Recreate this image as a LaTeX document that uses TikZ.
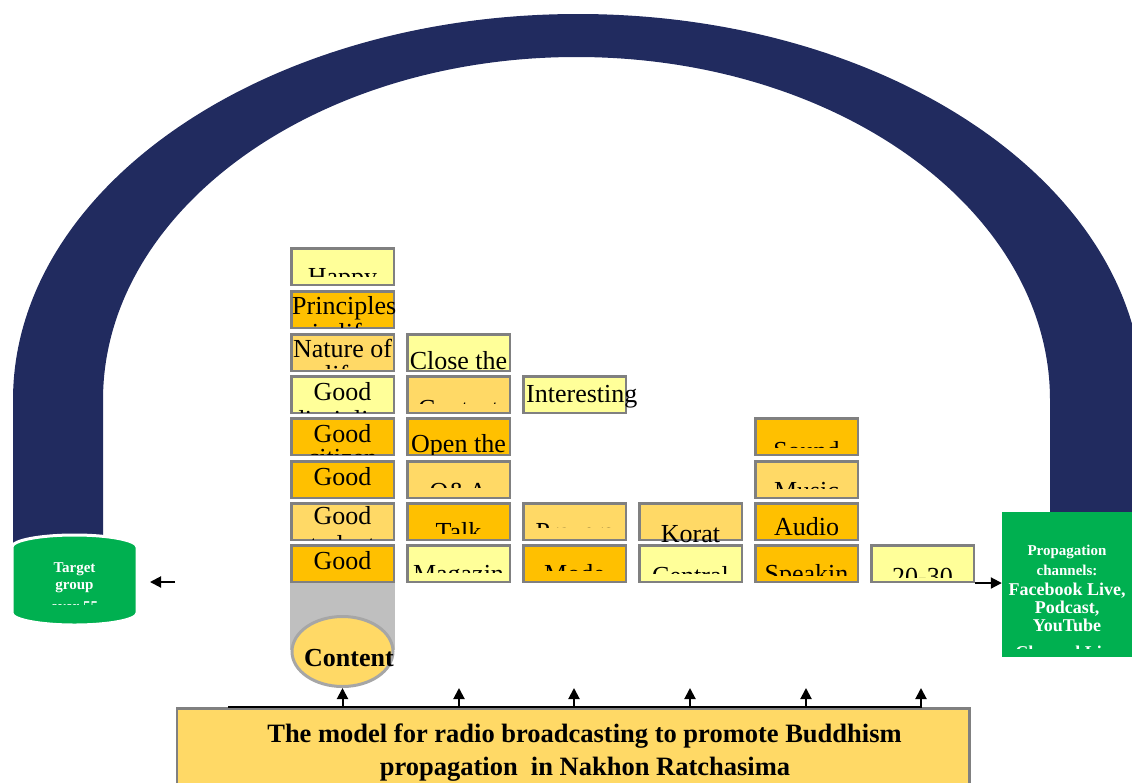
\documentclass[tikz,border=0pt]{standalone}
\usepackage{fontspec}
\setmainfont{Liberation Serif}
\usetikzlibrary{arrows.meta,shapes.geometric}
\definecolor{navy}{HTML}{212B5F}
\definecolor{grn}{HTML}{00B050}
\definecolor{ly}{HTML}{FFFF99}
\definecolor{org}{HTML}{FFC000}
\definecolor{lo}{HTML}{FFD966}
\definecolor{boxgray}{HTML}{808080}
\definecolor{ringgray}{HTML}{A6A6A6}
\definecolor{tubegray}{HTML}{BFBFBF}
\tikzset{
  cell/.style={draw=boxgray, line width=2.5pt, minimum width=102.5pt, minimum height=36.5pt, inner sep=0pt},
  txt/.style={font=\fontsize{26}{28}\selectfont, inner sep=0pt, anchor=base},
  gtxt/.style={font=\fontsize{15}{17}\selectfont\bfseries, text=white, inner sep=0pt, anchor=base},
  gbig/.style={font=\fontsize{18}{20}\selectfont\bfseries, text=white, inner sep=0pt, anchor=base},
  btxt/.style={font=\fontsize{26.5}{30}\selectfont\bfseries, inner sep=0pt, anchor=base},
  arr/.style={line width=2pt, -{Triangle[length=11pt,width=11pt]}}
}
\newcommand\cellbox[4]{\node[cell,fill=#4] (#1) at (#2,#3+19.5) {};}
\newcommand\cliptext[6]{\begin{scope}\clip (#2-80,#3+2.5) rectangle (#2+80,#4);
  \node[txt] (#1) at (#2,#5) {#6};\end{scope}}
\newcommand\cliptextw[7]{\begin{scope}\clip (#2-80,#3+2.5) rectangle (#2+80,#4);
  \node[txt, anchor=base west] (#1) at (#5,#6) {#7};\end{scope}}
\begin{document}
\begin{tikzpicture}[x=1pt,y=-1pt]
\useasboundingbox (0,0) rectangle (1132,782);
% arch
\fill[navy] (13,545) -- (13,400) arc[start angle=180, end angle=0, x radius=565pt, y radius=386pt]
  -- (1143,520) -- (1050,520) -- (1050,400)
  arc[start angle=0, end angle=180, x radius=473.5pt, y radius=343pt] -- (103,545) -- cycle;
% target group cylinder
\filldraw[fill=grn, draw=white, line width=3pt] (12,547) arc[start angle=180, end angle=0, x radius=62.5pt, y radius=12pt]
  -- (137,613) arc[start angle=0, end angle=-180, x radius=62.5pt, y radius=12pt] -- cycle;
\node[minimum width=125pt, minimum height=90pt, inner sep=0pt] (tg) at (74.5,580) {};
\begin{scope}
\clip (12,535) rectangle (137,604);
\node[gtxt] (tg1) at (74.5,572) {Target};
\node[gtxt] (tg2) at (74.5,589) {group};
\node[gtxt] (tg3) at (74.5,611) {over 55};
\end{scope}
% content tube and circle
\node[fill=tubegray, minimum width=105pt, minimum height=67pt, inner sep=0pt] (tube) at (342.5,616.5) {};
\node[ellipse, draw=ringgray, fill=lo, line width=3pt, minimum width=101pt, minimum height=70pt, inner sep=0pt] (content) at (342.5,651.5) {};
\node[btxt, font=\fontsize{26}{28}\selectfont\bfseries] (contentlabel) at (349,666) {Content};
% column 1
\cellbox{happy}{342.5}{247}{ly}
\cliptext{happy-t}{342.5}{247}{276}{285}{Happy}
\cellbox{princ}{342.5}{290}{org}
\cliptextw{princ-t}{342.5}{290}{327}{292}{314}{Principles}
\cliptext{princ-u}{342.5}{290}{327}{341}{in life}
\cellbox{nature}{342.5}{333}{lo}
\cliptext{nature-t}{342.5}{333}{368}{357}{Nature of}
\cliptext{nature-u}{342.5}{333}{368}{383}{life}
\cellbox{gdisc}{342.5}{375}{ly}
\cliptext{gdisc-t}{342.5}{375}{412}{400}{Good}
\cliptext{gdisc-u}{342.5}{375}{412}{428}{discipline}
\cellbox{gcit}{342.5}{417}{org}
\cliptext{gcit-t}{342.5}{417}{454}{442}{Good}
\cliptext{gcit-u}{342.5}{417}{454}{466}{citizen}
\cellbox{gthree}{342.5}{460}{org}
\cliptext{gthree-t}{342.5}{460}{496}{485}{Good}
\cellbox{gstud}{342.5}{502}{lo}
\cliptext{gstud-t}{342.5}{502}{539}{524}{Good}
\cliptext{gstud-u}{342.5}{502}{539}{553}{students}
\cellbox{gfour}{342.5}{544}{org}
\cliptext{gfour-t}{342.5}{544}{581}{569}{Good}
% column 2
\cellbox{close}{458.5}{333}{ly}
\cliptext{close-t}{458.5}{333}{370}{369}{Close the}
\cellbox{contact}{458.5}{375}{lo}
\cliptext{contact-t}{458.5}{375}{403}{417}{Contact}
\cellbox{open}{458.5}{417}{org}
\cliptext{open-t}{458.5}{417}{454}{452}{Open the}
\cellbox{qa}{458.5}{460}{lo}
\cliptext{qa-t}{458.5}{460}{487}{500}{Q\&A}
\cellbox{talk}{458.5}{502}{org}
\cliptext{talk-t}{458.5}{502}{533}{540}{Talk}
\cellbox{magazine}{458.5}{544}{ly}
\cliptext{magazine-t}{458.5}{544}{572}{582}{Magazin}
% column 3
\cellbox{interest}{574.5}{375}{ly}
\cliptextw{interest-t}{574.5}{375}{412}{526}{402}{Interesting}
\cellbox{prayers}{574.5}{502}{lo}
\cliptext{prayers-t}{574.5}{502}{527}{540}{Prayers}
\cellbox{mode}{574.5}{544}{org}
\cliptext{mode-t}{574.5}{544}{570}{582}{Mode}
% column 4
\cellbox{korat}{690.5}{502}{lo}
\cliptext{korat-t}{690.5}{502}{544}{542}{Korat}
\cellbox{central}{690.5}{544}{ly}
\cliptext{central-t}{690.5}{544}{573}{584}{Central}
% column 5
\cellbox{sound}{806.5}{417}{org}
\cliptext{sound-t}{806.5}{417}{447}{459}{Sound}
\cellbox{music}{806.5}{460}{lo}
\cliptext{music-t}{806.5}{460}{488}{499}{Music}
\cellbox{audio}{806.5}{502}{org}
\cliptext{audio-t}{806.5}{502}{539}{535}{Audio}
\cellbox{speak}{806.5}{544}{org}
\cliptext{speak-t}{806.5}{544}{575}{582}{Speakin}
% column 6
\cellbox{twenty}{922.5}{544}{ly}
\cliptext{twenty-t}{922.5}{544}{577}{585}{20-30}
% propagation channels box
\node[fill=grn, minimum width=130pt, minimum height=145pt, inner sep=0pt] (prop) at (1067,584.5) {};
\begin{scope}
\clip (1002,514) rectangle (1132,648);
\node[gtxt] (p1) at (1067,555) {Propagation};
\node[gtxt] (p2) at (1067,575) {channels:};
\node[gbig] (p3) at (1067,595) {Facebook Live,};
\node[gbig] (p4) at (1067,613) {Podcast,};
\node[gbig] (p5) at (1067,631) {YouTube};
\node[gbig] (p6) at (1067,658) {Channel Live};
\end{scope}
% side arrows
\coordinate (lafrom) at (175,582);
\coordinate (lato) at (150,582);
\draw[arr] (lafrom) -- (lato);
\draw[arr] (twenty.south east) -- (twenty.south east -| prop.west);
% bottom model box
\node[draw=boxgray, line width=2.5pt, fill=lo, minimum width=792.5pt, minimum height=100pt, inner sep=0pt] (model) at (573,758.25) {};
\node[btxt] (m1) at (584.5,742) {The model for radio broadcasting to promote Buddhism};
\node[btxt] (m2) at (585,775) {propagation\ \ in Nakhon Ratchasima};
% bottom connector line and arrows
\coordinate (bl) at (228,707);
\coordinate (br) at (922,707);
\draw[line width=2.5pt] (bl) -- (br);
\coordinate (a2) at (459,688);
\coordinate (a3) at (574,688);
\coordinate (a4) at (690,688);
\coordinate (a5) at (806,688);
\coordinate (a6) at (921,688);
\draw[arr] (content.south |- bl) -- (content.south);
\foreach \c in {a2,a3,a4,a5,a6} { \draw[arr] (\c |- bl) -- (\c); }
\end{tikzpicture}
\end{document}
